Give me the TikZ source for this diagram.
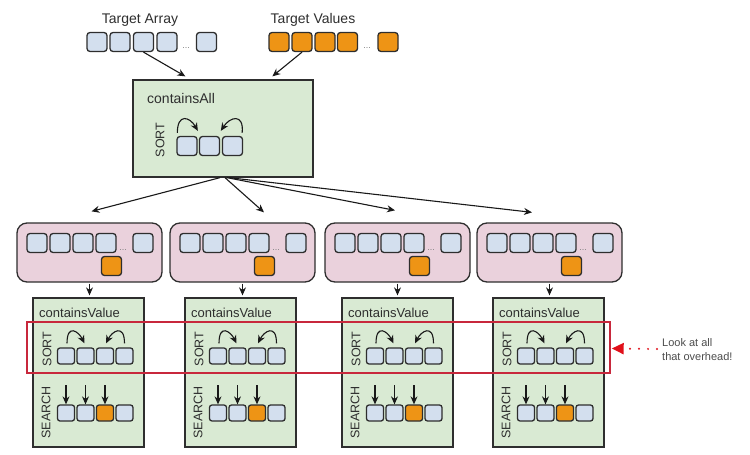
\documentclass[tikz,border=0pt]{standalone}
\usepackage{fontspec}
\setmainfont{Liberation Sans}
\usetikzlibrary{arrows.meta,calc}
\definecolor{cellblue}{HTML}{D3DFEE}
\definecolor{edge}{HTML}{2E2E2E}
\definecolor{orangec}{HTML}{EE9415}
\definecolor{pinkc}{HTML}{EAD1DC}
\definecolor{greenc}{HTML}{D9EAD3}
\definecolor{redframe}{HTML}{C8283C}
\definecolor{redarrow}{HTML}{E0101A}
\definecolor{txt}{HTML}{2E2E2E}
\begin{document}
\begin{tikzpicture}[x=1pt,y=-1pt,
  cell/.style={draw=edge, fill=cellblue, rounded corners=3pt, line width=1.3pt,
    minimum width=20pt, minimum height=19pt, inner sep=0pt},
  ocell/.style={cell, fill=orangec},
  scell/.style={cell, minimum width=17pt, minimum height=16pt, rounded corners=2.5pt},
  socell/.style={scell, fill=orangec},
  dotsl/.style={text=gray, font=\fontsize{9}{9}\selectfont, inner sep=0pt},
  lbl/.style={text=txt, font=\fontsize{14}{16}\selectfont, inner sep=0pt},
  vlbl/.style={text=txt, font=\fontsize{12.5}{14}\selectfont, inner sep=0pt, rotate=90},
  gbox/.style={draw=edge, fill=greenc, line width=1.3pt, inner sep=0pt},
  pbox/.style={draw=edge, fill=pinkc, line width=1.3pt, rounded corners=10pt, inner sep=0pt,
    minimum width=145pt, minimum height=59pt},
  arr/.style={-{Stealth[length=8pt,width=7pt]}, line width=1.1pt, draw=black!90},
  frame/.style={draw=redframe, line width=1.4pt, inner sep=0pt},
  note/.style={text=gray!60!black, font=\fontsize{11}{14}\selectfont, align=left, inner sep=0pt}
]
\useasboundingbox (0,0) rectangle (750,455);

% top labels and arrays
\node[lbl] (ta) at (140,20) {Target Array};
\node[lbl] (tv) at (313,20) {Target Values};
\foreach \i/\x in {1/97,2/120,3/143.5,4/167,5/206.5}
  \node[cell] (a\i) at (\x,42) {};
\node[dotsl] (adots) at (186,48) {...};
\foreach \i/\x in {1/279,2/302,3/325,4/347.5,5/388}
  \node[ocell] (v\i) at (\x,42) {};
\node[dotsl] (vdots) at (367,48) {...};

% main box
\node[gbox, minimum width=180pt, minimum height=97pt] (main) at (223,128.5) {};
\coordinate (inA) at ($(main.north west)+(53,-3)$);
\coordinate (inV) at ($(main.north west)+(140,-3)$);
\draw[arr] (a3.south) -- (inA);
\draw[arr] (v2.south) -- (inV);
\node[lbl, anchor=west] (ca) at (147,98) {containsAll};
\node[vlbl] (cs) at (160,140) {SORT};
\foreach \i/\x in {1/187,2/209.5,3/232.5}
  \node[cell] (m\i) at (\x,146) {};
\draw[arr] ($(m1.north west)+(1,-3)$) .. controls +(0,-20) and +(-8,-14) .. ($(m2.north west)+(-1,-5)$);
\draw[arr] ($(m3.north east)+(-1,-3)$) .. controls +(2,-20) and +(9,-14) .. ($(m3.north west)+(-1,-5)$);

% pink boxes
\foreach \i/\l in {1/17,2/170,3/325,4/477}{
  \node[pbox] (p\i) at ({\l+72.5},252.5) {};
  \foreach \k in {1,2,3,4}
    \node[cell] (p\i c\k) at ({\l+20+23*(\k-1)},243) {};
  \node[cell] (p\i c5) at ({\l+126},243) {};
  \node[dotsl] (p\i d) at ({\l+106},250) {...};
  \node[ocell] (p\i o) at ({\l+94.5},266) {};
}
\draw[arr] ($(main.south)+(-3,0)$) -- ($(p1.north)+(2,-11)$);
\draw[arr] ($(main.south)+(2,0)$) -- ($(p2.north)+(21.5,-10)$);
\draw[arr] ($(main.south)+(4,0)$) -- ($(p3.north)+(-2.5,-12)$);
\draw[arr] ($(main.south)+(6,0)$) -- ($(p4.north)+(-17.5,-10)$);

% green boxes
\foreach \i/\l in {1/33,2/185,3/342,4/493}{
  \node[gbox, minimum width=111pt, minimum height=149pt] (g\i) at ({\l+55.5},372.5) {};
  \draw[arr, shorten <=1pt, shorten >=2pt] (p\i.south) -- (p\i.south |- g\i.north);
  \node[text=txt, font=\fontsize{13}{15}\selectfont, inner sep=0pt, anchor=west] (g\i t) at ({\l+6},313) {containsValue};
  \node[vlbl] (g\i sl) at ({\l+14},349) {SORT};
  \node[vlbl] (g\i ql) at ({\l+13},412.5) {SEARCH};
  \foreach \k in {1,2,3,4}
    \node[scell] (g\i s\k) at ({\l+33+19.5*(\k-1)},356) {};
  \node[scell] (g\i q1) at ({\l+33},413) {};
  \node[scell] (g\i q2) at ({\l+52.5},413) {};
  \node[socell] (g\i q3) at ({\l+72},413) {};
  \node[scell] (g\i q4) at ({\l+91.5},413) {};
  \draw[arr] ($(g\i s1.north)+(1,-4)$) .. controls +(0,-20) and +(-6,-12) .. ($(g\i s2.north)+(-1,-4)$);
  \draw[arr] ($(g\i s4.north)+(0,-4)$) .. controls +(0,-20) and +(6,-12) .. ($(g\i s3.north)+(1,-4)$);
  \foreach \k in {1,2,3}
    \draw[arr] ($(g\i q\k.north)+(0,-19)$) -- (g\i q\k.north);
}

% highlight frame and note
\node[frame, minimum width=583pt, minimum height=51pt] (hl) at (318.5,347.5) {};
\node[note, anchor=west] (nt) at (662,350) {Look at all\\that overhead!};
\draw[redarrow, line width=2.2pt, line cap=round, dash pattern=on 0pt off 9pt,
  -{Triangle[length=12pt,width=11pt]}] ($(nt.west)+(-5,-1)$) -- ($(hl.east)+(1,1)$);
\end{tikzpicture}
\end{document}
